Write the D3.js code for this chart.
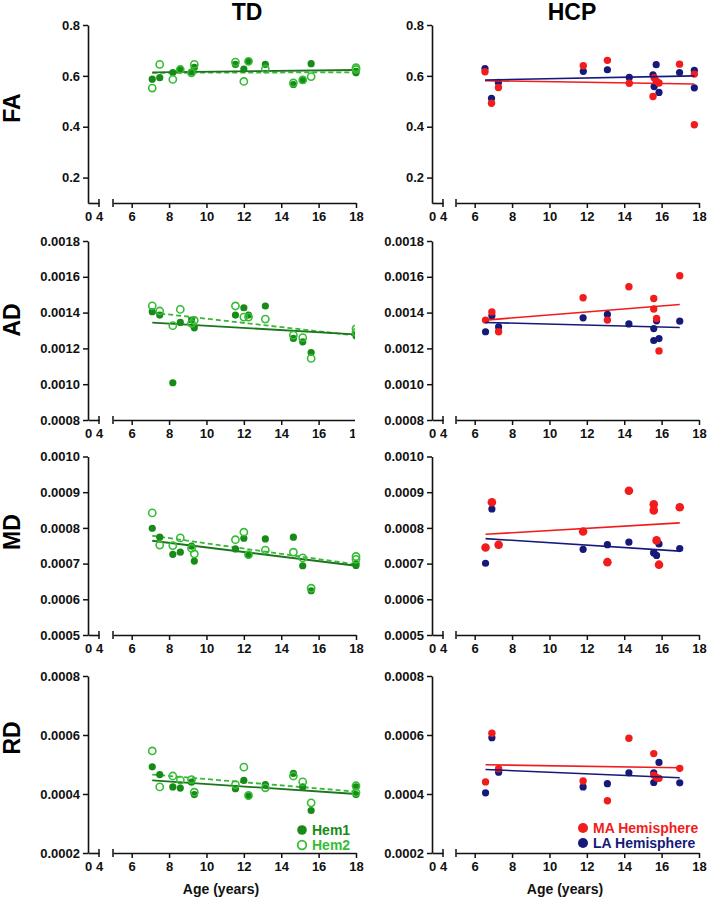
<!DOCTYPE html>
<html>
<head>
<meta charset="utf-8">
<script src="https://cdn.jsdelivr.net/npm/d3@7"></script>
<style>
  html, body { margin: 0; padding: 0; background: #fff; }
  svg { display: block; font-family: "Liberation Sans", Arial, sans-serif; }
</style>
</head>
<body>
<svg id="chart" width="708" height="899"></svg>
<script>
// ---------------- DATA ----------------
// TD group (two subjects at 18 y)
const tdAge = [7.1, 7.5, 8.2, 8.6, 9.2, 9.35, 11.55, 12.0, 12.25, 13.15, 14.65, 15.15, 15.6, 18.0, 18.0];
const tdFA_hem1 = [0.587, 0.593, 0.613, 0.627, 0.615, 0.633, 0.645, 0.627, 0.657, 0.645, 0.566, 0.582, 0.648, 0.612, 0.618];
const tdFA_hem2 = [0.552, 0.645, 0.586, 0.625, 0.612, 0.645, 0.654, 0.578, 0.657, 0.627, 0.572, 0.584, 0.597, 0.632, 0.625];
const tdAD_hem1 = [0.001405, 0.001386, 0.001008, 0.001345, 0.001358, 0.001315, 0.001386, 0.001427, 0.001386, 0.001437, 0.001256, 0.001237, 0.001177, 0.00127, 0.00128];
const tdAD_hem2 = [0.001438, 0.001409, 0.001327, 0.001418, 0.00134, 0.001356, 0.001437, 0.001375, 0.001375, 0.001364, 0.001274, 0.00126, 0.001144, 0.00131, 0.00129];
const tdMD_hem1 = [0.000799, 0.000774, 0.000726, 0.000732, 0.000749, 0.000707, 0.000741, 0.000771, 0.000724, 0.000769, 0.000774, 0.000694, 0.000624, 0.0007, 0.000695];
const tdMD_hem2 = [0.000842, 0.000752, 0.00075, 0.000772, 0.000743, 0.000727, 0.000767, 0.000788, 0.000725, 0.000738, 0.000732, 0.000716, 0.000631, 0.00072, 0.000712];
const tdRD_hem1 = [0.000492, 0.000466, 0.000424, 0.00042, 0.00044, 0.000398, 0.000418, 0.000446, 0.000393, 0.000432, 0.00047, 0.000424, 0.000344, 0.000424, 0.000398];
const tdRD_hem2 = [0.000546, 0.000424, 0.000461, 0.000447, 0.000449, 0.000406, 0.000432, 0.000491, 0.000395, 0.000421, 0.000461, 0.000441, 0.00037, 0.000428, 0.000405];

// TD regression lines: [value at first age, value at last age]
const tdFit_age = [7.1, 18.0];
const tdFA_fit1 = [0.614, 0.623], tdFA_fit2 = [0.612, 0.614];
const tdAD_fit1 = [0.001344, 0.001278], tdAD_fit2 = [0.0014, 0.001272];
const tdMD_fit1 = [0.000764, 0.000694], tdMD_fit2 = [0.000778, 0.000698];
const tdRD_fit1 = [0.000446, 0.0004], tdRD_fit2 = [0.000466, 0.000408];

// HCP group
const hcpFA_age = [6.55, 6.9, 7.27, 11.81, 13.1, 14.27, 15.54, 15.6, 15.71, 15.86, 16.96, 17.75, 17.75];
const hcpFA_LA = [0.629, 0.512, 0.574, 0.618, 0.624, 0.594, 0.604, 0.558, 0.644, 0.535, 0.613, 0.622, 0.553];
const hcpFA_MA = [0.616, 0.492, 0.554, 0.64, 0.661, 0.571, 0.519, 0.593, 0.58, 0.572, 0.646, 0.607, 0.408];
const hcpAge = [6.58, 6.92, 7.28, 11.8, 13.1, 14.25, 15.58, 15.58, 15.73, 15.86, 16.97];
const hcpAD_LA = [0.001293, 0.001382, 0.00132, 0.001371, 0.00139, 0.001337, 0.001311, 0.001244, 0.001354, 0.001255, 0.001352];
const hcpAD_MA = [0.001358, 0.001404, 0.001293, 0.001483, 0.001358, 0.001544, 0.001479, 0.00142, 0.001367, 0.001186, 0.001606];
const hcpMD_LA = [0.000701, 0.000853, 0.000752, 0.00074, 0.000753, 0.00076, 0.00073, 0.000731, 0.000723, 0.000755, 0.000742];
const hcpMD_MA = [0.000745, 0.000872, 0.000753, 0.00079, 0.000704, 0.000904, 0.000866, 0.000849, 0.000765, 0.000697, 0.000858];
const hcpRD_LA = [0.000404, 0.000591, 0.000474, 0.000424, 0.000435, 0.000472, 0.000472, 0.000439, 0.000455, 0.000507, 0.000438];
const hcpRD_MA = [0.000441, 0.000606, 0.000486, 0.000444, 0.000377, 0.000589, 0.000537, 0.000464, 0.000455, 0.000453, 0.000487];

// HCP regression lines
const hcpFA_fitAge = [6.55, 17.75];
const hcpFit_age = [6.58, 16.97];
const hcpFA_fitMA = [0.581, 0.568], hcpFA_fitLA = [0.584, 0.6];
const hcpAD_fitMA = [0.001358, 0.001445], hcpAD_fitLA = [0.001345, 0.001317];
const hcpMD_fitMA = [0.000782, 0.000814], hcpMD_fitLA = [0.00077, 0.000735];
const hcpRD_fitMA = [0.000499, 0.000489], hcpRD_fitLA = [0.000483, 0.000455];

// Axis ticks / labels
const rowNames = ["FA", "AD", "MD", "RD"];
const colTitles = ["TD", "HCP"];
const yTicksFA = [0.2, 0.4, 0.6, 0.8];
const yTicksAD = [0.0008, 0.0010, 0.0012, 0.0014, 0.0016, 0.0018];
const yTicksMD = [0.0005, 0.0006, 0.0007, 0.0008, 0.0009, 0.0010];
const yTicksRD = [0.0002, 0.0004, 0.0006, 0.0008];
const xTicksLow = [0, 4];
const xTicksHigh = [6, 8, 10, 12, 14, 16, 18];
const legendTD = ["Hem1", "Hem2"];
const legendHCP = ["MA Hemisphere", "LA Hemisphere"];
const xLabel = "Age (years)";

// ---------------- LAYOUT ----------------
const svg = d3.select("#chart");
const C = {
  hem1: "#178a17", hem2: "#35bd35", line1: "#1c741c", line2: "#38b838",
  red: "#f21c1c", navy: "#15197a", axis: "#111"
};
const rows = [
  {name: "FA", dom: [0.1, 0.8], ticks: yTicksFA, fmt: d3.format(".1f"), range: [203, 25], labelY: 108},
  {name: "AD", dom: [0.0008, 0.0018], ticks: yTicksAD, fmt: d3.format(".4f"), range: [420, 241], labelY: 320},
  {name: "MD", dom: [0.0005, 0.0010], ticks: yTicksMD, fmt: d3.format(".4f"), range: [635, 456.5], labelY: 532},
  {name: "RD", dom: [0.0002, 0.0008], ticks: yTicksRD, fmt: d3.format(".4f"), range: [853, 676], labelY: 738}
];
const cols = [
  {x0: 88, seg1: [88, 99], seg2: [113, 356]},
  {x0: 432, seg1: [432, 443], seg2: [456, 699]}
];

const tdData = [
  [tdFA_hem1, tdFA_hem2, tdFA_fit1, tdFA_fit2],
  [tdAD_hem1, tdAD_hem2, tdAD_fit1, tdAD_fit2],
  [tdMD_hem1, tdMD_hem2, tdMD_fit1, tdMD_fit2],
  [tdRD_hem1, tdRD_hem2, tdRD_fit1, tdRD_fit2]
];
const hcpData = [
  [hcpFA_age, hcpFA_LA, hcpFA_MA, hcpFA_fitAge, hcpFA_fitLA, hcpFA_fitMA],
  [hcpAge, hcpAD_LA, hcpAD_MA, hcpFit_age, hcpAD_fitLA, hcpAD_fitMA],
  [hcpAge, hcpMD_LA, hcpMD_MA, hcpFit_age, hcpMD_fitLA, hcpMD_fitMA],
  [hcpAge, hcpRD_LA, hcpRD_MA, hcpFit_age, hcpRD_fitLA, hcpRD_fitMA]
];

// clip for TD AD panel (cropped in the original figure)
svg.append("defs").append("clipPath").attr("id", "clipAD")
  .append("rect").attr("x", 0).attr("y", 225).attr("width", 355).attr("height", 225);

// column titles
svg.append("text").attr("x", 247).attr("y", 20).attr("text-anchor", "middle")
  .attr("font-size", 23).attr("font-weight", "bold").attr("fill", "#000").text(colTitles[0]);
svg.append("text").attr("x", 572).attr("y", 20).attr("text-anchor", "middle")
  .attr("font-size", 23).attr("font-weight", "bold").attr("fill", "#000").text(colTitles[1]);

rows.forEach((r, ri) => {
  // row label
  svg.append("text").attr("transform", `translate(20,${r.labelY}) rotate(-90)`)
    .attr("text-anchor", "middle").attr("font-size", 23).attr("font-weight", "bold")
    .attr("fill", "#000").text(rowNames[ri]);

  cols.forEach((c, ci) => {
    const g = svg.append("g");
    if (ri === 1 && ci === 0) g.attr("clip-path", "url(#clipAD)");
    const y = d3.scaleLinear().domain(r.dom).range(r.range);
    const x1 = d3.scaleLinear().domain([0, 4]).range(c.seg1);
    const x2 = d3.scaleLinear().domain([5, 18]).range(c.seg2);
    const yb = r.range[0];

    // y axis
    const ya = g.append("g").attr("transform", `translate(${c.x0},0)`)
      .call(d3.axisLeft(y).tickValues(r.ticks).tickFormat(r.fmt).tickSize(5).tickSizeOuter(0).tickPadding(3));
    // x axis seg1
    const xa1 = g.append("g").attr("transform", `translate(0,${yb})`)
      .call(d3.axisBottom(x1).tickValues(xTicksLow).tickFormat(d3.format("d")).tickSize(0).tickSizeOuter(0).tickPadding(9));
    const xa2 = g.append("g").attr("transform", `translate(0,${yb})`)
      .call(d3.axisBottom(x2).tickValues(xTicksHigh).tickFormat(d3.format("d")).tickSize(5).tickSizeOuter(0).tickPadding(4));
    [ya, xa1, xa2].forEach(a => {
      a.selectAll("path.domain").attr("stroke", C.axis).attr("stroke-width", 1.6);
      a.selectAll(".tick line").attr("stroke", C.axis).attr("stroke-width", 1.5);
      a.selectAll("text").attr("font-size", 13).attr("font-weight", "bold")
        .attr("fill", "#111").attr("font-family", "Liberation Sans, Arial, sans-serif");
    });
    // break caps
    [x1(4), x2(5)].forEach(xx => {
      g.append("line").attr("x1", xx).attr("x2", xx).attr("y1", yb - 4).attr("y2", yb + 4)
        .attr("stroke", C.axis).attr("stroke-width", 1.5);
    });

    if (ci === 0) {
      const [h1, h2, f1, f2] = tdData[ri];
      // fits
      g.append("line").attr("x1", x2(tdFit_age[0])).attr("x2", x2(tdFit_age[1]))
        .attr("y1", y(f2[0])).attr("y2", y(f2[1]))
        .attr("stroke", C.line2).attr("stroke-width", 1.8).attr("stroke-dasharray", "5,3");
      g.append("line").attr("x1", x2(tdFit_age[0])).attr("x2", x2(tdFit_age[1]))
        .attr("y1", y(f1[0])).attr("y2", y(f1[1]))
        .attr("stroke", C.line1).attr("stroke-width", 1.8);
      g.selectAll(null).data(tdAge.map((a, i) => [a, h1[i]])).join("circle")
        .attr("cx", d => x2(d[0])).attr("cy", d => y(d[1])).attr("r", 3.6).attr("fill", C.hem1);
      g.selectAll(null).data(tdAge.map((a, i) => [a, h2[i]])).join("circle")
        .attr("cx", d => x2(d[0])).attr("cy", d => y(d[1])).attr("r", 3.6)
        .attr("fill", "none").attr("stroke", C.hem2).attr("stroke-width", 1.6);
    } else {
      const [ages, la, ma, fa, fla, fma] = hcpData[ri];
      g.selectAll(null).data(ages.map((a, i) => [a, la[i]])).join("circle")
        .attr("cx", d => x2(d[0])).attr("cy", d => y(d[1])).attr("r", 3.6).attr("fill", C.navy);
      g.selectAll(null).data(ages.map((a, i) => [a, ma[i]])).join("circle")
        .attr("cx", d => x2(d[0])).attr("cy", d => y(d[1])).attr("r", ri === 2 ? 4.3 : 3.7).attr("fill", C.red);
      g.append("line").attr("x1", x2(fa[0])).attr("x2", x2(fa[1]))
        .attr("y1", y(fma[0])).attr("y2", y(fma[1])).attr("stroke", C.red).attr("stroke-width", 1.6);
      g.append("line").attr("x1", x2(fa[0])).attr("x2", x2(fa[1]))
        .attr("y1", y(fla[0])).attr("y2", y(fla[1])).attr("stroke", C.navy).attr("stroke-width", 1.6);
    }

    if (ri === 3) {
      g.append("text").attr("x", ci === 0 ? 221 : 565).attr("y", 894).attr("text-anchor", "middle")
        .attr("font-size", 14).attr("font-weight", "bold").attr("fill", "#111").text(xLabel);
    }
  });
});

// legends
const lg1 = svg.append("g");
lg1.append("circle").attr("cx", 302).attr("cy", 830).attr("r", 4.8).attr("fill", C.hem1);
lg1.append("circle").attr("cx", 302).attr("cy", 845).attr("r", 4.3).attr("fill", "none")
  .attr("stroke", C.hem2).attr("stroke-width", 1.8);
lg1.append("text").attr("x", 312).attr("y", 835).attr("font-size", 14).attr("font-weight", "bold")
  .attr("fill", C.hem1).text(legendTD[0]);
lg1.append("text").attr("x", 312).attr("y", 850).attr("font-size", 14).attr("font-weight", "bold")
  .attr("fill", C.hem2).text(legendTD[1]);

const lg2 = svg.append("g");
lg2.append("circle").attr("cx", 583).attr("cy", 828).attr("r", 5).attr("fill", C.red);
lg2.append("circle").attr("cx", 583).attr("cy", 843).attr("r", 5).attr("fill", C.navy);
lg2.append("text").attr("x", 593).attr("y", 833).attr("font-size", 14).attr("font-weight", "bold")
  .attr("fill", C.red).text(legendHCP[0]);
lg2.append("text").attr("x", 593).attr("y", 848).attr("font-size", 14).attr("font-weight", "bold")
  .attr("fill", C.navy).text(legendHCP[1]);
</script>
</body>
</html>
